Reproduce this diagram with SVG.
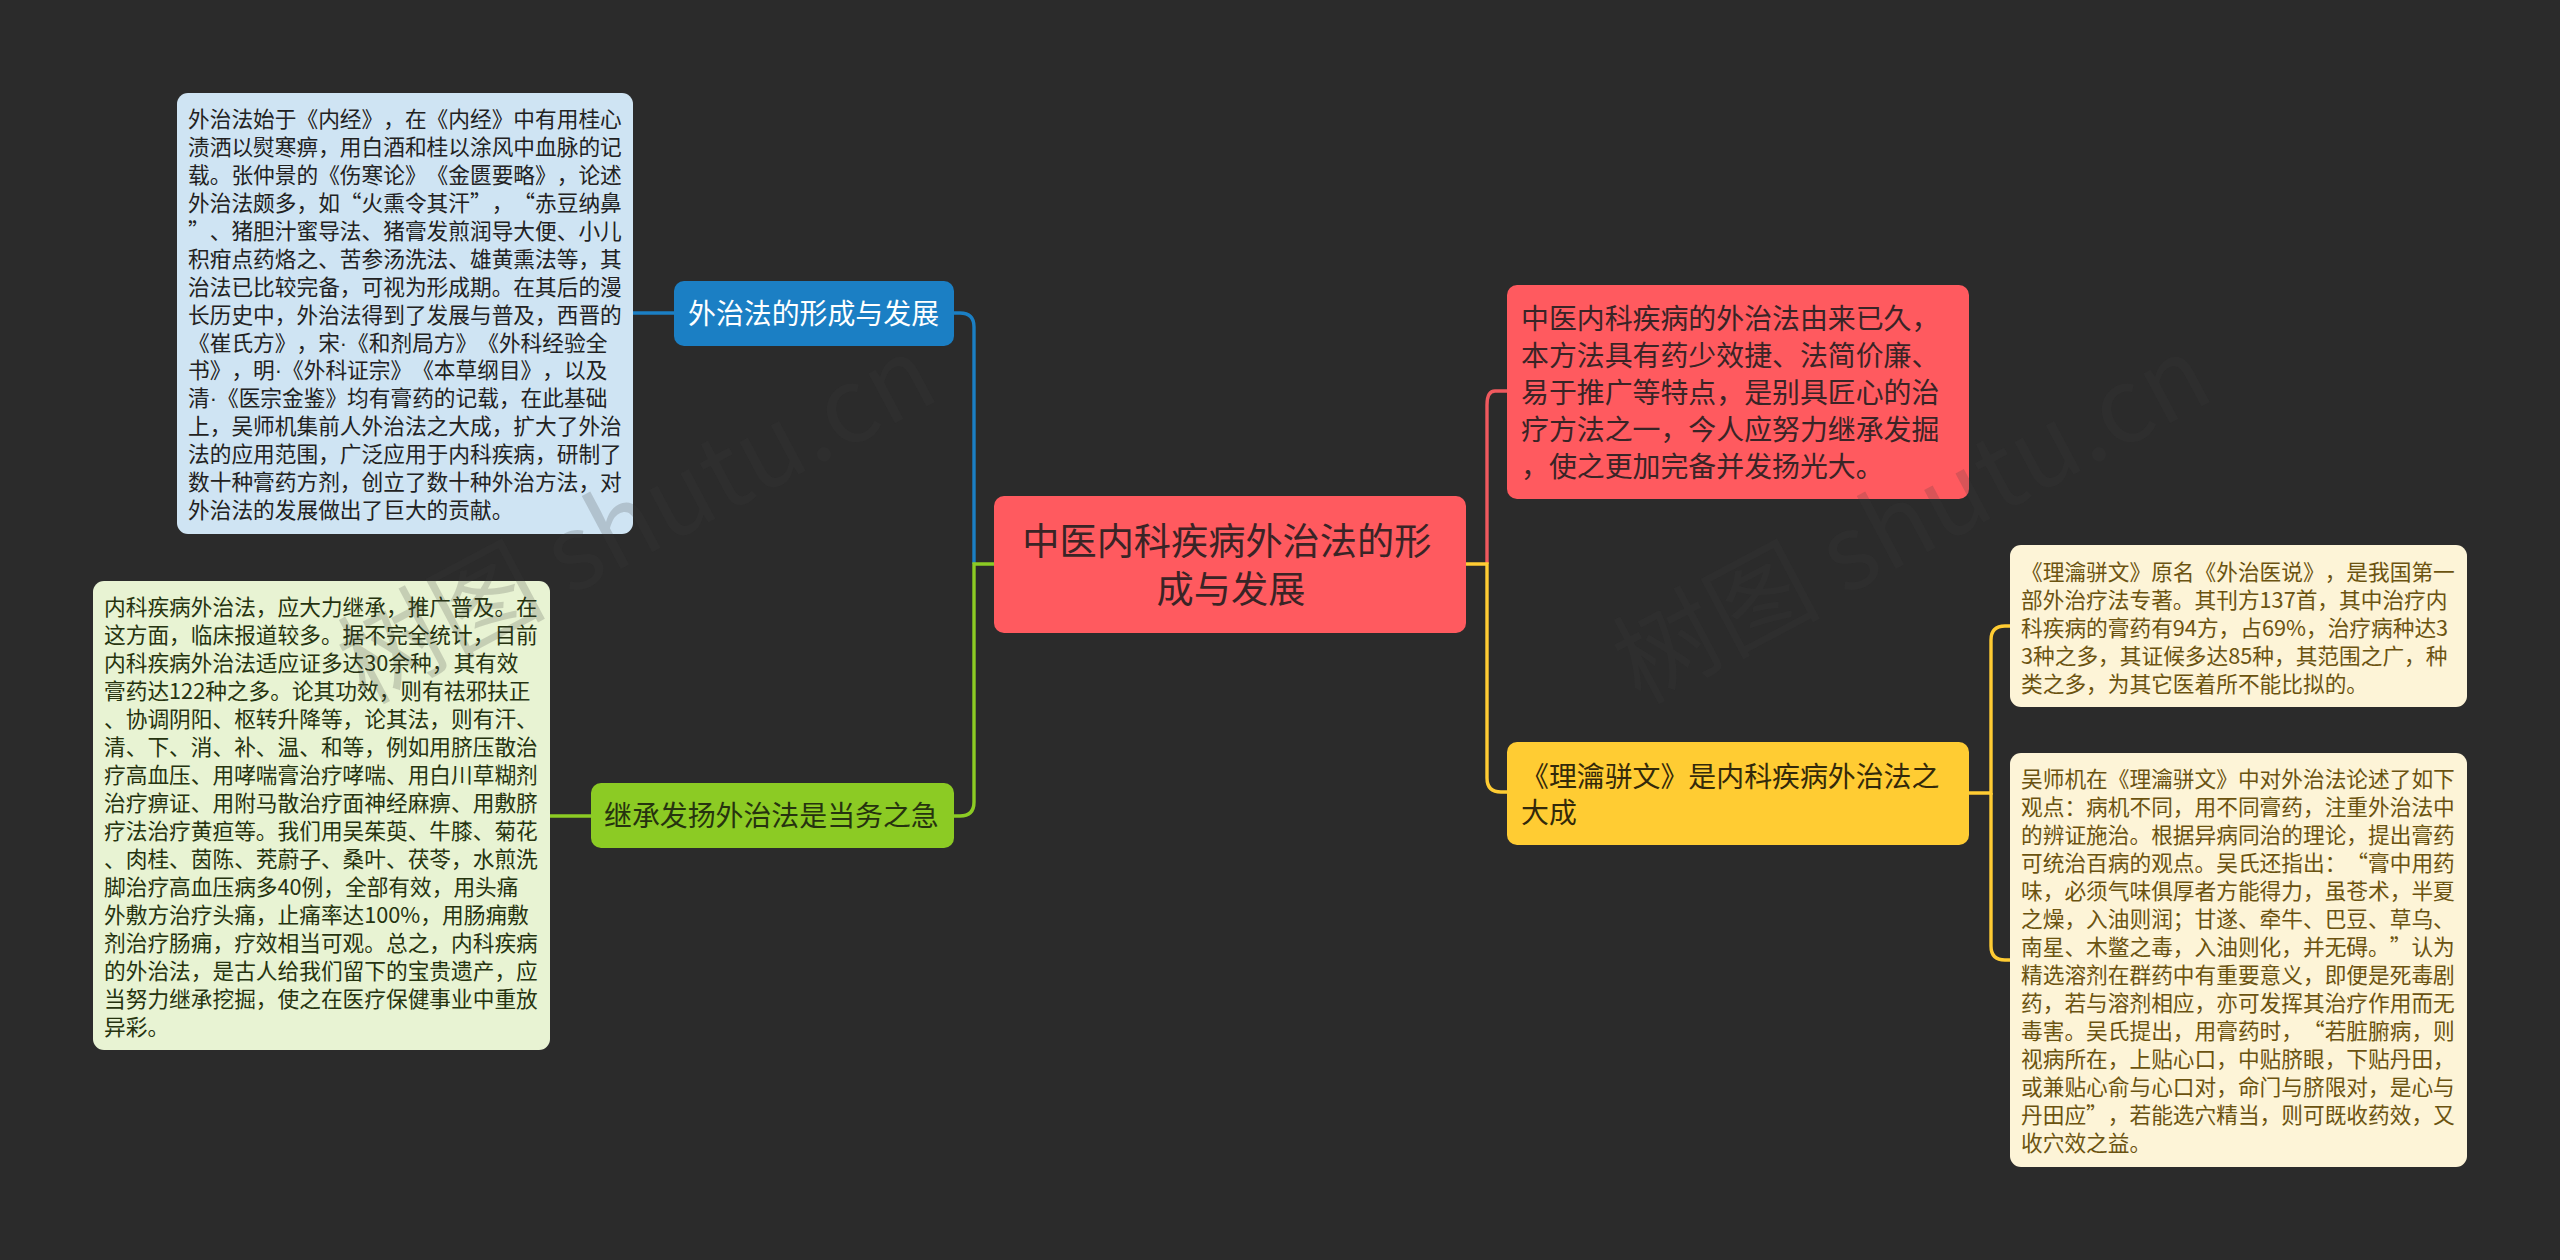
<svg xmlns="http://www.w3.org/2000/svg" width="2560" height="1260" viewBox="0 0 2560 1260" lang="zh-CN">
<style>
text{font-family:"Noto Sans CJK SC","Liberation Sans",sans-serif;text-spacing-trim:space-all;font-kerning:none}
.s{font-size:21.7px}
.m{font-size:27.9px}
.d{font-family:"Liberation Sans",sans-serif}
.c{fill:none;stroke-width:3.4;stroke-linecap:butt}
.wm{font-size:104px;fill:#3a3a3a;fill-opacity:.2}
</style>
<rect width="2560" height="1260" fill="#2b2b2b"/>
<g id="connectors">
<path class="c" stroke="#1b7fc4" d="M954 313H960Q974 313 974 327V564"/>
<path class="c" stroke="#8ccb24" d="M994 564H974V802Q974 816 960 816H954"/>
<path class="c" stroke="#1b7fc4" d="M633 313H674"/>
<path class="c" stroke="#8ccb24" d="M550 816H591"/>
<path class="c" stroke="#f0595e" d="M1487 564V405Q1487 391 1495 391H1507"/>
<path class="c" stroke="#ffcc33" d="M1466 564H1487V778Q1487 792 1501 792H1507"/>
<path class="c" stroke="#ffcc33" d="M1969 793H1991V640Q1991 626 2005 626H2010"/>
<path class="c" stroke="#ffcc33" d="M1991 793V946Q1991 960 2005 960H2010"/>
</g>
<g id="node-a">
<rect x="177" y="93" width="456" height="441" rx="11" fill="#cfe4f3"/>
<text class="s" fill="#222">
<tspan x="188" y="127.3">外治法始于《内经》，在《内经》中有用桂心</tspan>
<tspan x="188" y="155.2">渍洒以熨寒痹，用白酒和桂以涂风中血脉的记</tspan>
<tspan x="188" y="183.1">载。张仲景的《伤寒论》《金匮要略》，论述</tspan>
<tspan x="188" y="211">外治法颇多，如“火熏令其汗”，“赤豆纳鼻</tspan>
<tspan x="188" y="238.9">”、猪胆汁蜜导法、猪膏发煎润导大便、小儿</tspan>
<tspan x="188" y="266.8">积疳点药烙之、苦参汤洗法、雄黄熏法等，其</tspan>
<tspan x="188" y="294.7">治法已比较完备，可视为形成期。在其后的漫</tspan>
<tspan x="188" y="322.6">长历史中，外治法得到了发展与普及，西晋的</tspan>
<tspan x="188" y="350.5">《崔氏方》，宋<tspan class="d">·</tspan>《和剂局方》《外科经验全</tspan>
<tspan x="188" y="378.4">书》，明<tspan class="d">·</tspan>《外科证宗》《本草纲目》，以及</tspan>
<tspan x="188" y="406.3">清<tspan class="d">·</tspan>《医宗金鉴》均有膏药的记载，在此基础</tspan>
<tspan x="188" y="434.2">上，吴师机集前人外治法之大成，扩大了外治</tspan>
<tspan x="188" y="462.1">法的应用范围，广泛应用于内科疾病，研制了</tspan>
<tspan x="188" y="490">数十种膏药方剂，创立了数十种外治方法，对</tspan>
<tspan x="188" y="517.9">外治法的发展做出了巨大的贡献。</tspan>
</text>
</g>
<g id="node-b">
<rect x="93" y="581" width="457" height="469" rx="11" fill="#e8f3d3"/>
<text class="s" fill="#26330f">
<tspan x="104" y="615.3">内科疾病外治法，应大力继承，推广普及。在</tspan>
<tspan x="104" y="643.3">这方面，临床报道较多。据不完全统计，目前</tspan>
<tspan x="104" y="671.3">内科疾病外治法适应证多达30余种，其有效</tspan>
<tspan x="104" y="699.2">膏药达122种之多。论其功效，则有祛邪扶正</tspan>
<tspan x="104" y="727.2">、协调阴阳、枢转升降等，论其法，则有汗、</tspan>
<tspan x="104" y="755.2">清、下、消、补、温、和等，例如用脐压散治</tspan>
<tspan x="104" y="783.2">疗高血压、用哮喘膏治疗哮喘、用白川草糊剂</tspan>
<tspan x="104" y="811.1">治疗痹证、用附马散治疗面神经麻痹、用敷脐</tspan>
<tspan x="104" y="839.1">疗法治疗黄疸等。我们用吴茱萸、牛膝、菊花</tspan>
<tspan x="104" y="867.1">、肉桂、茵陈、茺蔚子、桑叶、茯苓，水煎洗</tspan>
<tspan x="104" y="895.1">脚治疗高血压病多40例，全部有效，用头痛</tspan>
<tspan x="104" y="923">外敷方治疗头痛，止痛率达100%，用肠痈敷</tspan>
<tspan x="104" y="951">剂治疗肠痈，疗效相当可观。总之，内科疾病</tspan>
<tspan x="104" y="979">的外治法，是古人给我们留下的宝贵遗产，应</tspan>
<tspan x="104" y="1007">当努力继承挖掘，使之在医疗保健事业中重放</tspan>
<tspan x="104" y="1034.9">异彩。</tspan>
</text>
</g>
<g id="node-blue">
<rect x="674" y="281" width="280" height="65" rx="10" fill="#1b7fc4"/>
<text class="m" fill="#fff" x="688" y="324">外治法的形成与发展</text>
</g>
<g id="node-green">
<rect x="591" y="783" width="363" height="65" rx="10" fill="#8ccb24"/>
<text class="m" fill="#26330f" x="604" y="826">继承发扬外治法是当务之急</text>
</g>
<g id="node-root">
<rect x="994" y="496" width="472" height="137" rx="10" fill="#ff5a5f"/>
<text font-size="37.2" fill="#3a2426" text-anchor="middle">
<tspan x="1231" y="555">中医内科疾病外治法的形</tspan>
<tspan x="1231" y="603">成与发展</tspan>
</text>
</g>
<g id="node-red">
<rect x="1507" y="285" width="462" height="214" rx="10" fill="#ff5a5f"/>
<text class="m" fill="#3a2426">
<tspan x="1521" y="329">中医内科疾病的外治法由来已久，</tspan>
<tspan x="1521" y="366">本方法具有药少效捷、法简价廉、</tspan>
<tspan x="1521" y="403">易于推广等特点，是别具匠心的治</tspan>
<tspan x="1521" y="440">疗方法之一，今人应努力继承发掘</tspan>
<tspan x="1521" y="477">，使之更加完备并发扬光大。</tspan>
</text>
</g>
<g id="node-yellow">
<rect x="1507" y="742" width="462" height="103" rx="10" fill="#ffcc33"/>
<text class="m" fill="#33290a">
<tspan x="1521" y="787">《理瀹骈文》是内科疾病外治法之</tspan>
<tspan x="1521" y="823">大成</tspan>
</text>
</g>
<g id="node-c">
<rect x="2010" y="545" width="457" height="162" rx="11" fill="#fdf4d7"/>
<text class="s" fill="#6b5310">
<tspan x="2021" y="580.3">《理瀹骈文》原名《外治医说》，是我国第一</tspan>
<tspan x="2021" y="608.2">部外治疗法专著。其刊方137首，其中治疗内</tspan>
<tspan x="2021" y="636.1">科疾病的膏药有94方，占69%，治疗病种达3</tspan>
<tspan x="2021" y="664">3种之多，其证候多达85种，其范围之广，种</tspan>
<tspan x="2021" y="691.9">类之多，为其它医着所不能比拟的。</tspan>
</text>
</g>
<g id="node-d">
<rect x="2010" y="753" width="457" height="414" rx="11" fill="#fdf4d7"/>
<text class="s" fill="#6b5310">
<tspan x="2021" y="787.3">吴师机在《理瀹骈文》中对外治法论述了如下</tspan>
<tspan x="2021" y="815.3">观点：病机不同，用不同膏药，注重外治法中</tspan>
<tspan x="2021" y="843.3">的辨证施治。根据异病同治的理论，提出膏药</tspan>
<tspan x="2021" y="871.3">可统治百病的观点。吴氏还指出：“膏中用药</tspan>
<tspan x="2021" y="899.3">味，必须气味俱厚者方能得力，虽苍术，半夏</tspan>
<tspan x="2021" y="927.3">之燥，入油则润；甘遂、牵牛、巴豆、草乌、</tspan>
<tspan x="2021" y="955.3">南星、木鳖之毒，入油则化，并无碍。”认为</tspan>
<tspan x="2021" y="983.3">精选溶剂在群药中有重要意义，即便是死毒剧</tspan>
<tspan x="2021" y="1011.3">药，若与溶剂相应，亦可发挥其治疗作用而无</tspan>
<tspan x="2021" y="1039.3">毒害。吴氏提出，用膏药时，“若脏腑病，则</tspan>
<tspan x="2021" y="1067.3">视病所在，上贴心口，中贴脐眼，下贴丹田，</tspan>
<tspan x="2021" y="1095.3">或兼贴心俞与心口对，命门与脐限对，是心与</tspan>
<tspan x="2021" y="1123.3">丹田应”，若能选穴精当，则可既收药效，又</tspan>
<tspan x="2021" y="1151.3">收穴效之益。</tspan>
</text>
</g>
<g id="watermark">
<text class="wm" transform="translate(365 705) rotate(-28)">树图 shutu.cn</text>
<text class="wm" transform="translate(1640 705) rotate(-28)">树图 shutu.cn</text>
</g>
</svg>
